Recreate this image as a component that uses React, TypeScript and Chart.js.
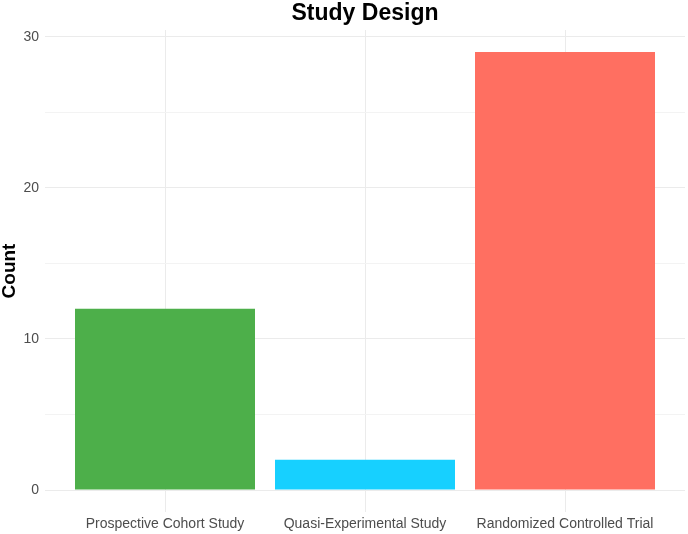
import React, { useEffect, useRef } from "react";
import { Chart, registerables } from "chart.js";

Chart.register(...registerables);

const categories = ["Prospective Cohort Study", "Quasi-Experimental Study", "Randomized Controlled Trial"];
const counts = [12, 2, 29];
const barColors = ["#4DAF4A", "#17D0FF", "#FF6F61"];
const yTicks = [0, 5, 10, 15, 20, 25, 30];
const yLabelled = [0, 10, 20, 30];

const FONT = "'Liberation Sans', Arial, Helvetica, sans-serif";

export default function App() {
  const ref = useRef<HTMLCanvasElement | null>(null);

  useEffect(() => {
    if (!ref.current) return;
    const chart = new Chart(ref.current, {
      type: "bar",
      data: {
        datasets: [
          {
            data: counts.map((v, i) => ({ x: i, y: v })),
            backgroundColor: barColors,
            borderWidth: 0,
            categoryPercentage: 0.9,
            barPercentage: 1,
          },
        ],
      },
      options: {
        responsive: false,
        animation: false,
        layout: { padding: { left: 0, right: 3, top: 0, bottom: 0 } },
        plugins: {
          legend: { display: false },
          tooltip: { enabled: false },
          title: {
            display: true,
            text: "Study Design",
            fullSize: false,
            color: "#000000",
            font: { family: FONT, size: 23, weight: "bold", lineHeight: 1 },
            padding: { top: 2, bottom: 5 },
          },
        },
        scales: {
          x: {
            type: "linear",
            min: -0.6,
            max: 2.6,
            offset: false,
            afterBuildTicks: (scale: any) => {
              scale.ticks = categories.map((_, i) => ({ value: i }));
            },
            afterFit: (scale: any) => {
              scale.height = 22;
            },
            border: { display: false },
            grid: { color: "#EBEBEB", lineWidth: 1, drawTicks: false, offset: false },
            ticks: {
              padding: 4,
              color: "#4D4D4D",
              font: { family: FONT, size: 14 },
              maxRotation: 0,
              autoSkip: false,
              callback: (v: any) => categories[Math.round(Number(v))] ?? "",
            },
          },
          y: {
            type: "linear",
            min: -1.45,
            max: 30.45,
            afterBuildTicks: (scale: any) => {
              scale.ticks = yTicks.map((v) => ({ value: v }));
            },
            afterFit: (scale: any) => {
              scale.width = 45;
            },
            border: { display: false },
            grid: {
              drawTicks: false,
              color: (ctx: any) => (yLabelled.includes(ctx.tick?.value) ? "#EBEBEB" : "#F3F3F3"),
              lineWidth: 1,
            },
            ticks: {
              padding: 6,
              color: "#4D4D4D",
              font: { family: FONT, size: 14 },
              autoSkip: false,
              callback: (v: any) => (yLabelled.includes(Number(v)) ? String(v) : ""),
            },
            title: {
              display: true,
              text: "Count",
              color: "#000000",
              font: { family: FONT, size: 19, weight: "bold", lineHeight: 1 },
              padding: { top: 0, bottom: 0 },
            },
          },
        },
      },
    });
    return () => chart.destroy();
  }, []);

  return (
    <div style={{ position: "absolute", left: 0, top: 0, width: 688, height: 534, background: "#FFFFFF" }}>
      <canvas ref={ref} width={688} height={534} style={{ display: "block" }} />
    </div>
  );
}
